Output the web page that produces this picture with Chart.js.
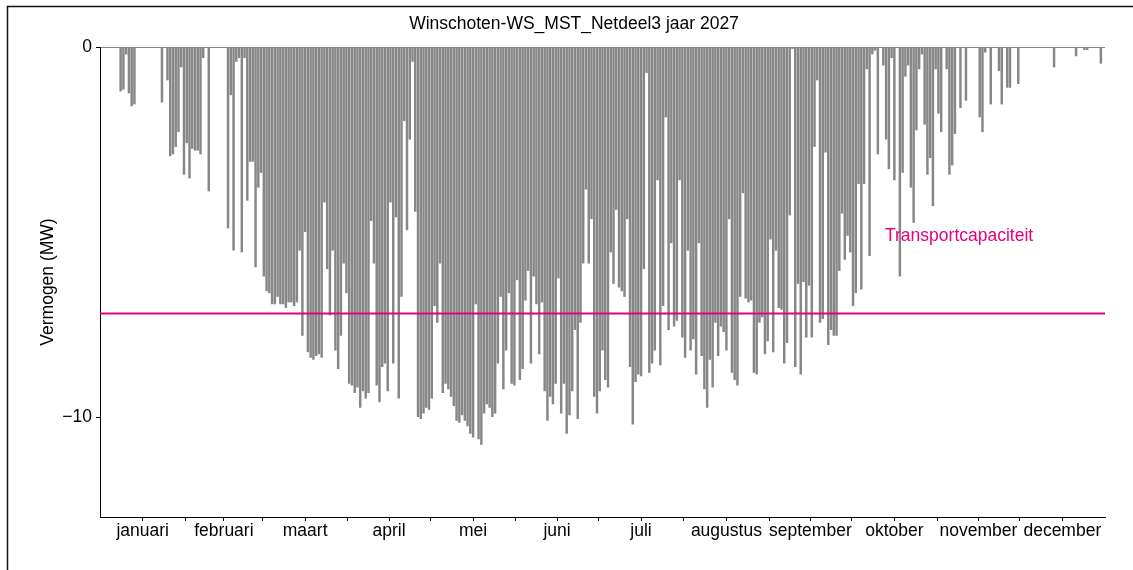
<!DOCTYPE html>
<html>
<head>
<meta charset="utf-8">
<script src="https://cdn.jsdelivr.net/npm/chart.js@4.4.1/dist/chart.umd.min.js"></script>
<style>
  html, body { margin: 0; padding: 0; background: #fff; }
  #wrap { position: relative; width: 1133px; height: 570px; }
</style>
</head>
<body>
<div id="wrap"><canvas id="chart-profile" width="1133" height="570"></canvas></div>
<script>
const chartTitle = "Winschoten-WS_MST_Netdeel3 jaar 2027";
const yAxisTitle = "Vermogen (MW)";
const capacityLabel = "Transportcapaciteit";

const monthNames = ["januari", "februari", "maart", "april", "mei", "juni", "juli",
    "augustus", "september", "oktober", "november", "december"];
const monthStartDay = [0, 31, 59, 90, 120, 151, 181, 212, 243, 273, 304, 334, 365];
const yTickValues = [-10, 0];

// daily peak feed-in (MW, negative = generation), one value per day
const janPeak = [0, 0, 0, 0, 0, 0, 0, -1.2, -1.15, -0.2, -1.25, -1.6, -1.55, 0, 0, 0, 0, 0, 0, 0, 0, 0,
    -1.5, 0, -0.9, -2.95, -2.9, -2.7, -2.3, -0.55, -3.45];
const febPeak = [-2.6, -3.55, -2.75, -2.8, -2.8, -2.9, -0.3, 0, -3.9, 0, 0, 0, 0, 0, 0, -4.9, -1.3, -5.5,
    -0.4, -0.3, -5.55, -0.3, -4.15, -3.1, -3.1, -5.95, -3.8, -3.4];
const marPeak = [-6.2, -6.6, -6.65, -6.95, -6.95, -6.75, -6.95, -6.95, -7.05, -6.9, -6.9, -7.0, -6.9, -5.5,
    -7.8, -5.0, -8.25, -8.4, -8.45, -8.35, -8.3, -8.4, -4.2, -6.0, -7.25, -5.5, -8.2, -8.7, -7.8, -5.85, -6.65];
const aprPeak = [-9.1, -9.15, -9.35, -9.2, -9.75, -9.3, -9.5, -9.35, -4.7, -5.85, -9.15, -9.6, -8.65, -8.55,
    -9.3, -4.2, -8.55, -4.6, -9.5, -6.75, -2.0, -4.95, -2.5, -0.4, -4.45, -10.0, -10.05, -9.9, -9.75, -9.8];
const mayPeak = [-9.5, -7.0, -7.45, -5.85, -9.35, -9.1, -9.25, -9.45, -9.7, -10.1, -10.15, -9.95, -10.1,
    -10.25, -10.45, -10.55, -6.95, -10.6, -10.75, -9.9, -9.65, -9.75, -10.0, -9.9, -8.55, -6.75, -9.25, -8.2,
    -6.65, -9.1, -9.15];
const junPeak = [-6.3, -9.0, -8.7, -6.85, -6.05, -8.55, -6.2, -6.95, -8.3, -6.9, -9.3, -10.1, -9.45, -9.65,
    -9.1, -6.25, -9.9, -9.1, -10.45, -9.95, -9.3, -7.65, -10.05, -7.45, -5.85, -3.85, -5.85, -4.65, -9.45, -9.9];
const julPeak = [-9.3, -8.2, -9.0, -9.2, -5.55, -6.4, -4.4, -6.5, -6.6, -6.75, -4.65, -8.65, -10.2, -9.05,
    -8.85, -8.9, -6.0, -0.7, -8.8, -8.55, -8.2, -3.6, -8.6, -7.0, -1.9, -7.65, -5.3, -7.55, -7.4, -3.6, -7.85];
const augPeak = [-8.4, -5.5, -8.2, -7.9, -8.85, -5.3, -8.35, -9.25, -9.75, -8.45, -9.2, -7.45, -8.35, -7.55,
    -7.7, -8.2, -4.65, -8.8, -9.0, -9.15, -6.75, -3.95, -6.8, -6.9, -6.85, -8.8, -8.85, -7.45, -7.3, -8.3, -7.95];
const sepPeak = [-5.2, -8.25, -5.5, -7.05, -7.1, -8.55, -8.0, -4.55, -0.05, -8.65, -6.4, -8.85, -6.35, -7.85,
    -6.45, -7.85, -2.7, -0.9, -7.45, -7.35, -2.85, -8.05, -7.65, -7.8, -7.8, -6.05, -4.5, -5.75, -5.1, -5.55];
const octPeak = [-7.0, -6.65, -3.7, -6.55, -3.7, -0.6, -5.65, -0.2, -0.1, -2.9, 0, -0.5, -2.5, -3.3, -0.3,
    -3.6, 0, -6.2, -3.4, -0.8, -0.5, -3.8, -4.75, -2.25, -0.6, -0.2, -2.1, -3.45, -3.0, -4.3, -0.6];
const novPeak = [-1.8, -2.3, 0, -0.6, -3.45, -3.2, -2.35, 0, -1.65, 0, -1.45, 0, 0, 0, 0, -1.9, -2.3, -0.15,
    0, -1.55, 0, 0, -0.65, -1.55, 0, -1.1, -1.1, 0, 0, -1.0];
const decPeak = [0, 0, 0, 0, 0, 0, 0, 0, 0, 0, 0, 0, -0.55, 0, 0, 0, 0, 0, 0, 0, -0.25, 0, 0, -0.08, -0.08,
    0, 0, 0, 0, -0.45, 0];

const transportCapacity = -7.2;

const dailyPeak = [].concat(janPeak, febPeak, marPeak, aprPeak, mayPeak, junPeak, julPeak, augPeak,
    sepPeak, octPeak, novPeak, decPeak);

const fontFamily = "'Liberation Sans', Arial, sans-serif";
const grey = "#878787";
const magenta = "#e5007e";

// month starts get a bare tick, month middles carry the name
const monthMid = [];
for (let i = 0; i < 12; i++) {
    monthMid.push((monthStartDay[i] + monthStartDay[i + 1]) / 2);
}
const xTickValues = monthStartDay.slice(1, 12).concat(monthMid).sort((a, b) => a - b);

const barData = [];
for (let i = 0; i < dailyPeak.length; i++) {
    barData.push({ x: i + 0.5, y: dailyPeak[i] });
}

const decor = {
    id: "decor",
    afterDraw(chart) {
        const c = chart.ctx;
        const xs = chart.scales.x;
        const ys = chart.scales.y;
        c.save();
        // frame
        c.strokeStyle = "#111";
        c.lineWidth = 1.5;
        c.beginPath();
        c.moveTo(7.5, 570);
        c.lineTo(7.5, 6.5);
        c.lineTo(1133, 6.5);
        c.stroke();

        c.fillStyle = "#000";
        c.font = "17.5px " + fontFamily;
        c.textAlign = "center";
        c.textBaseline = "middle";
        c.fillText(chartTitle, 574, 24);

        c.save();
        c.translate(48, 282);
        c.rotate(-Math.PI / 2);
        c.fillText(yAxisTitle, 0, 0);
        c.restore();

        c.fillStyle = magenta;
        c.textAlign = "left";
        c.fillText(capacityLabel, xs.getPixelForValue(285.1), ys.getPixelForValue(-5.12));
        c.restore();
    }
};

const ctx = document.getElementById("chart-profile").getContext("2d");

new Chart(ctx, {
    type: "bar",
    data: {
        datasets: [
            {
                type: "line",
                label: capacityLabel,
                data: [{ x: 0, y: transportCapacity }, { x: 365, y: transportCapacity }],
                borderColor: magenta,
                borderWidth: 2,
                pointRadius: 0,
                order: 1,
            },
            {
                label: "Vermogen",
                data: barData,
                backgroundColor: grey,
                borderWidth: 0,
                barPercentage: 0.9,
                categoryPercentage: 1,
                order: 2,
            },
        ],
    },
    options: {
        responsive: false,
        animation: false,
        devicePixelRatio: 1,
        layout: {
            padding: { top: 47, right: 28, bottom: 0, left: 0 },
        },
        plugins: {
            legend: { display: false },
            tooltip: { enabled: false },
        },
        scales: {
            x: {
                type: "linear",
                min: 0,
                max: 365,
                offset: false,
                border: { color: "#000", width: 1 },
                grid: {
                    offset: false,
                    drawOnChartArea: false,
                    drawTicks: true,
                    tickLength: 4,
                    color: "#000",
                },
                afterBuildTicks: (axis) => {
                    axis.ticks = xTickValues.map((v) => ({ value: v }));
                },
                afterFit: (scale) => {
                    scale.height = 53;
                },
                ticks: {
                    autoSkip: false,
                    maxRotation: 0,
                    padding: 0,
                    color: "#000",
                    font: { size: 17.5, family: fontFamily },
                    callback: (value) => {
                        const idx = monthMid.findIndex((m) => Math.abs(m - value) < 0.01);
                        return idx >= 0 ? monthNames[idx] : "";
                    },
                },
            },
            y: {
                type: "linear",
                min: -12.7,
                max: 0,
                border: { color: "#000", width: 1 },
                grid: {
                    drawOnChartArea: true,
                    drawTicks: true,
                    tickLength: 4,
                    tickColor: "#000",
                    color: (c) => (c.tick && c.tick.value === 0 ? grey : "rgba(0,0,0,0)"),
                },
                afterBuildTicks: (axis) => {
                    axis.ticks = yTickValues.map((v) => ({ value: v }));
                },
                afterFit: (scale) => {
                    scale.width = 100;
                },
                ticks: {
                    padding: 4,
                    color: "#000",
                    font: { size: 17.5, family: fontFamily },
                    callback: (v) => (v < 0 ? "\u2212" + Math.abs(v) : String(v)),
                },
            },
        },
    },
    plugins: [decor],
});
</script>
</body>
</html>
